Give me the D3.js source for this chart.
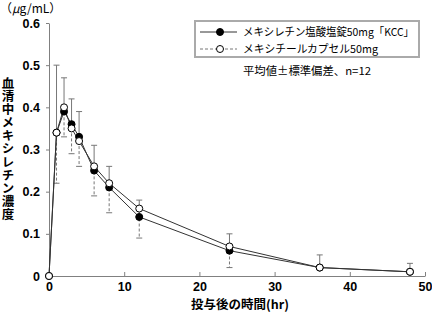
<!DOCTYPE html>
<html>
<head>
<meta charset="utf-8">
<script src="https://cdn.jsdelivr.net/npm/d3@7"></script>
<style>
  body { margin: 0; background: #fff; }
  svg { display: block; }
</style>
</head>
<body>
<svg id="chart" width="432" height="312"></svg>
<script>
// sampling times (hr)
const times = [0, 1, 2, 3, 4, 6, 8, 12, 24, 36, 48];
// mexiletine KCC tablet: mean and SD (upper bars)
const kccMean = [0, 0.34, 0.39, 0.36, 0.33, 0.25, 0.21, 0.14, 0.06, 0.02, 0.01];
const kccSd = [0, 0.16, 0.08, 0.06, 0.06, 0.06, 0.05, 0.04, 0.04, 0.03, 0.02];
// mexitil capsule: mean and SD (lower bars)
const capMean = [0, 0.34, 0.40, 0.35, 0.32, 0.26, 0.22, 0.16, 0.07, 0.02, 0.01];
const capSd = [0, 0.12, 0.07, 0.06, 0.06, 0.07, 0.07, 0.07, 0.05, 0, 0];

const xTicks = [0, 10, 20, 30, 40, 50];
const yTicks = [0, 0.1, 0.2, 0.3, 0.4, 0.5, 0.6];
const seriesNames = ['メキシレチン塩酸塩錠50mg「KCC」', 'メキシチールカプセル50mg'];
const legendWidths = [171, 135];

const svg = d3.select('#chart');
const x = d3.scaleLinear().domain([0, 50]).range([49, 425]);
const y = d3.scaleLinear().domain([0, 0.6]).range([276, 23]);
const axisColor = '#808080';
const numFont = '"Liberation Sans", Arial, sans-serif';
const jpFont = '"Noto Sans CJK JP", sans-serif';

// axes
const xAxis = svg.append('g').attr('transform', `translate(0,${y(0)})`)
  .call(d3.axisBottom(x).tickValues(xTicks).tickSizeInner(-4).tickSizeOuter(0).tickPadding(6));
const yAxis = svg.append('g').attr('transform', `translate(${x(0)},0)`)
  .call(d3.axisLeft(y).tickValues(yTicks).tickSizeInner(3).tickSizeOuter(0).tickPadding(6)
    .tickFormat(d => d === 0 ? '0' : d3.format('.1f')(d)));
[xAxis, yAxis].forEach(a => {
  a.select('.domain').attr('stroke', axisColor);
  a.selectAll('.tick line').attr('stroke', axisColor);
  a.selectAll('.tick text').attr('fill', '#000').attr('font-family', numFont)
    .attr('font-size', 12.5).attr('font-weight', 'bold');
});

const rows = times.map((t, i) => ({
  t, kcc: kccMean[i], kccSd: kccSd[i], cap: capMean[i], capSd: capSd[i]
}));

// error bars: KCC upward solid, capsule downward dashed
const cap = 3;
rows.filter(d => d.kccSd > 0).forEach(d => {
  const g = svg.append('g').attr('stroke', '#777').attr('stroke-width', 1);
  g.append('line').attr('x1', x(d.t)).attr('x2', x(d.t))
    .attr('y1', y(d.kcc)).attr('y2', y(d.kcc + d.kccSd));
  g.append('line').attr('x1', x(d.t) - cap).attr('x2', x(d.t) + cap)
    .attr('y1', y(d.kcc + d.kccSd)).attr('y2', y(d.kcc + d.kccSd));
});
rows.filter(d => d.capSd > 0).forEach(d => {
  const g = svg.append('g').attr('stroke', '#777').attr('stroke-width', 1);
  g.append('line').attr('x1', x(d.t)).attr('x2', x(d.t))
    .attr('y1', y(d.cap)).attr('y2', y(d.cap - d.capSd))
    .attr('stroke-dasharray', '3,2');
  g.append('line').attr('x1', x(d.t) - cap).attr('x2', x(d.t) + cap)
    .attr('y1', y(d.cap - d.capSd)).attr('y2', y(d.cap - d.capSd));
});

// lines
const lineKcc = d3.line().x(d => x(d.t)).y(d => y(d.kcc));
const lineCap = d3.line().x(d => x(d.t)).y(d => y(d.cap));
svg.append('path').datum(rows).attr('d', lineKcc)
  .attr('fill', 'none').attr('stroke', '#333').attr('stroke-width', 1);
svg.append('path').datum(rows).attr('d', lineCap)
  .attr('fill', 'none').attr('stroke', '#333').attr('stroke-width', 1);

// markers
svg.append('g').selectAll('circle').data(rows).join('circle')
  .attr('cx', d => x(d.t)).attr('cy', d => y(d.kcc)).attr('r', 3.5)
  .attr('fill', '#000').attr('stroke', '#000');
svg.append('g').selectAll('circle').data(rows).join('circle')
  .attr('cx', d => x(d.t)).attr('cy', d => y(d.cap)).attr('r', 3.5)
  .attr('fill', '#fff').attr('stroke', '#000');

// legend
const leg = svg.append('g');
leg.append('rect').attr('x', 195).attr('y', 21).attr('width', 224).attr('height', 36)
  .attr('fill', '#fff').attr('stroke', '#aaa').attr('stroke-width', 2);
seriesNames.forEach((name, i) => {
  const ly = 32 + i * 17;
  leg.append('line').attr('x1', 200).attr('x2', 237).attr('y1', ly).attr('y2', ly)
    .attr('stroke', i === 0 ? '#333' : '#777').attr('stroke-dasharray', i === 0 ? null : '3,2');
  leg.append('circle').attr('cx', 220).attr('cy', ly).attr('r', 3.5)
    .attr('fill', i === 0 ? '#000' : '#fff').attr('stroke', '#000');
  leg.append('text').attr('x', 243).attr('y', ly).attr('dy', '0.36em')
    .attr('font-family', jpFont).attr('font-size', 11)
    .attr('textLength', legendWidths[i]).attr('lengthAdjust', 'spacingAndGlyphs')
    .text(name);
});
svg.append('text').attr('x', 243).attr('y', 71).attr('dy', '0.36em')
  .attr('font-family', jpFont).attr('font-size', 11)
  .attr('textLength', 128).attr('lengthAdjust', 'spacingAndGlyphs')
  .text('平均値±標準偏差、n=12');

// titles
svg.append('text').attr('x', 0).attr('y', 13)
  .attr('font-family', jpFont).attr('font-size', 12)
  .html('（<tspan font-style="italic">μ</tspan>g/mL）');
svg.append('text').attr('x', 240).attr('y', 309).attr('text-anchor', 'middle')
  .attr('font-family', jpFont).attr('font-size', 12.5).attr('font-weight', 'bold')
  .text('投与後の時間(hr)');
svg.append('text').attr('x', 8).attr('y', 149).attr('text-anchor', 'middle')
  .style('writing-mode', 'vertical-rl')
  .attr('font-family', jpFont).attr('font-size', 12.5).attr('font-weight', 'bold')
  .attr('letter-spacing', 0.6)
  .text('血清中メキシレチン濃度');
</script>
</body>
</html>
